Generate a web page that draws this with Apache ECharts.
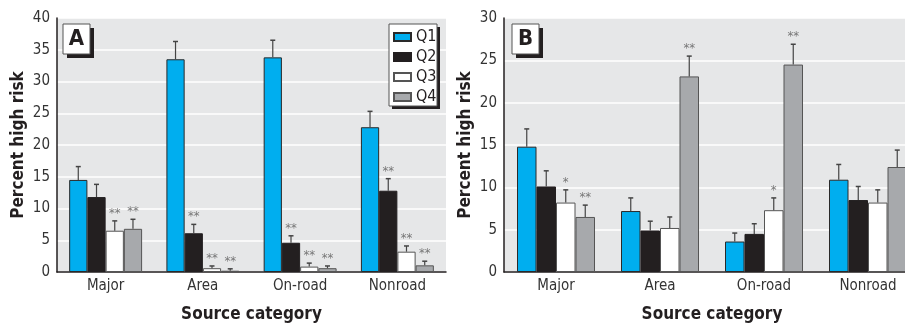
<!DOCTYPE html>
<html>
<head>
<meta charset="utf-8">
<script src="https://cdn.jsdelivr.net/npm/echarts@6/dist/echarts.min.js"></script>
<style>
html,body{margin:0;padding:0;background:#fff;}
#c{width:905px;height:326px;}
</style>
</head>
<body>
<div id="c"></div>
<script>
// ---- data ----
var categories = ['Major', 'Area', 'On-road', 'Nonroad'];
var seriesNames = ['Q1', 'Q2', 'Q3', 'Q4'];

// Panel A values (percent high risk)
var A_Q1 = [14.5, 33.5, 33.8, 22.8];
var A_Q2 = [11.8, 6.1, 4.6, 12.8];
var A_Q3 = [6.5, 0.6, 0.85, 3.2];
var A_Q4 = [6.8, 0.2, 0.6, 1.05];
// Panel A upper error limits
var A_Q1_err = [16.6, 36.3, 36.5, 25.3];
var A_Q2_err = [13.8, 7.5, 5.7, 14.7];
var A_Q3_err = [8.05, 0.95, 1.4, 4.1];
var A_Q4_err = [8.3, 0.5, 0.95, 1.7];
// Panel A significance marks
var A_Q1_sig = ['', '', '', ''];
var A_Q2_sig = ['', '**', '**', '**'];
var A_Q3_sig = ['**', '**', '**', '**'];
var A_Q4_sig = ['**', '**', '**', '**'];

// Panel B values
var B_Q1 = [14.8, 7.2, 3.6, 10.9];
var B_Q2 = [10.1, 4.9, 4.5, 8.5];
var B_Q3 = [8.2, 5.2, 7.3, 8.2];
var B_Q4 = [6.5, 23.1, 24.5, 12.4];
var B_Q1_err = [16.9, 8.75, 4.6, 12.7];
var B_Q2_err = [11.95, 6.0, 5.7, 10.1];
var B_Q3_err = [9.7, 6.5, 8.75, 9.7];
var B_Q4_err = [7.9, 25.5, 26.9, 14.4];
var B_Q1_sig = ['', '', '', ''];
var B_Q2_sig = ['', '', '', ''];
var B_Q3_sig = ['*', '', '*', ''];
var B_Q4_sig = ['**', '**', '**', ''];

var yTicksA = {min: 0, max: 40, interval: 5};
var yTicksB = {min: 0, max: 30, interval: 5};

// ---- styles ----
var FONT = '"Liberation Sans Narrow", "DejaVu Sans Condensed", "Arial Narrow", sans-serif';
var colors = ['#00aeef', '#231f20', '#ffffff', '#a7a9ac'];
var borders = ['#2a2a2a', '#231f20', '#555555', '#555555'];
var GAP = 0.25;

var panels = [
  {vals: [A_Q1, A_Q2, A_Q3, A_Q4], errs: [A_Q1_err, A_Q2_err, A_Q3_err, A_Q4_err], sigs: [A_Q1_sig, A_Q2_sig, A_Q3_sig, A_Q4_sig]},
  {vals: [B_Q1, B_Q2, B_Q3, B_Q4], errs: [B_Q1_err, B_Q2_err, B_Q3_err, B_Q4_err], sigs: [B_Q1_sig, B_Q2_sig, B_Q3_sig, B_Q4_sig]}
];

var series = [];
panels.forEach(function (p, pi) {
  for (var k = 0; k < 4; k++) {
    series.push({
      type: 'bar', name: seriesNames[k], xAxisIndex: pi, yAxisIndex: pi,
      data: p.vals[k], barGap: '0%', barCategoryGap: (GAP * 100) + '%',
      itemStyle: {color: colors[k], borderColor: borders[k], borderWidth: 1},
      emphasis: {disabled: true}, z: 2
    });
  }
  for (var k2 = 0; k2 < 4; k2++) {
    (function (k, p) {
      var d = p.vals[k].map(function (v, i) { return [i, v, p.errs[k][i]]; });
      series.push({
        type: 'custom', xAxisIndex: pi, yAxisIndex: pi, z: 3, silent: true,
        data: d,
        renderItem: function (params, api) {
          var ci = api.value(0);
          var base = api.coord([ci, api.value(1)]);
          var top = api.coord([ci, api.value(2)]);
          var cw = api.size([1, 0])[0];
          var bw = cw * (1 - GAP) / 4;
          var x = base[0] + (k - 1.5) * bw;
          var mark = p.sigs[k][params.dataIndex];
          var children = [
            {type: 'line', shape: {x1: x, y1: base[1], x2: x, y2: top[1]}, style: {stroke: '#444', lineWidth: 1.2}},
            {type: 'line', shape: {x1: x - 2.5, y1: top[1], x2: x + 2.5, y2: top[1]}, style: {stroke: '#444', lineWidth: 1.5}}
          ];
          if (mark) {
            children.push({type: 'text', style: {text: mark, x: x, y: top[1] - 1, align: 'center', verticalAlign: 'bottom',
              fill: '#777', font: '13px ' + FONT}});
          }
          return {type: 'group', children: children};
        }
      });
    })(k2, p);
  }
});

function xAxisDef(gi) {
  return {
    type: 'category', gridIndex: gi, data: categories,
    axisLine: {lineStyle: {color: '#231f20', width: 1.5}},
    axisTick: {show: false},
    axisLabel: {color: '#333', fontSize: 15, fontFamily: FONT, margin: 7},
    name: 'Source category', nameLocation: 'middle', nameGap: 34,
    nameTextStyle: {fontSize: 17, fontWeight: 'bold', color: '#231f20', fontFamily: FONT}
  };
}
function yAxisDef(gi, t) {
  return {
    type: 'value', gridIndex: gi, min: t.min, max: t.max, interval: t.interval,
    axisLine: {show: true, lineStyle: {color: '#231f20', width: 1.5}},
    axisTick: {show: false},
    splitLine: {show: true, lineStyle: {color: '#ffffff', width: 1.5}},
    axisLabel: {color: '#333', fontSize: 15, fontFamily: FONT, margin: 7},
    name: 'Percent high risk', nameLocation: 'middle', nameGap: 30,
    nameTextStyle: {fontSize: 17, fontWeight: 'bold', color: '#231f20', fontFamily: FONT}
  };
}

function labelBox(x, y, letter) {
  return [
    {type: 'rect', shape: {x: x + 4, y: y + 4, width: 27, height: 30}, style: {fill: '#231f20'}, z: 10},
    {type: 'rect', shape: {x: x, y: y, width: 27, height: 30}, style: {fill: '#fff', stroke: '#555', lineWidth: 1}, z: 11},
    {type: 'text', style: {text: letter, x: x + 13.5, y: y + 15.5, align: 'center', verticalAlign: 'middle',
      font: 'bold 22px ' + FONT, fill: '#231f20'}, z: 12}
  ];
}

var option = {
  animation: false,
  backgroundColor: '#fff',
  grid: [
    {left: 57, top: 18, width: 389, height: 254, show: true, backgroundColor: '#e6e7e8', borderWidth: 0, containLabel: false, outerBoundsMode: 'none'},
    {left: 504, top: 18, width: 416, height: 254, show: true, backgroundColor: '#e6e7e8', borderWidth: 0, containLabel: false, outerBoundsMode: 'none'}
  ],
  xAxis: [xAxisDef(0), xAxisDef(1)],
  yAxis: [yAxisDef(0, yTicksA), yAxisDef(1, yTicksB)],
  legend: {
    data: seriesNames, orient: 'vertical', left: 388, top: 24, icon: 'rect',
    itemWidth: 17, itemHeight: 8, itemGap: 4, selectedMode: false, padding: 5,
    textStyle: {fontSize: 16, fontFamily: FONT, color: '#231f20'},
    z: 20
  },
  graphic: [].concat(
    labelBox(63, 24, 'A'),
    labelBox(512, 24, 'B'),
    [
      {type: 'rect', shape: {x: 392, y: 27, width: 48, height: 82}, style: {fill: '#231f20'}, z: 10},
      {type: 'rect', shape: {x: 389, y: 24, width: 48, height: 82}, style: {fill: '#fff', stroke: '#555', lineWidth: 1}, z: 11}
    ]
  ),
  series: series
};

var chart = echarts.init(document.getElementById('c'), null, {renderer: 'canvas'});
chart.setOption(option);
</script>
</body>
</html>
